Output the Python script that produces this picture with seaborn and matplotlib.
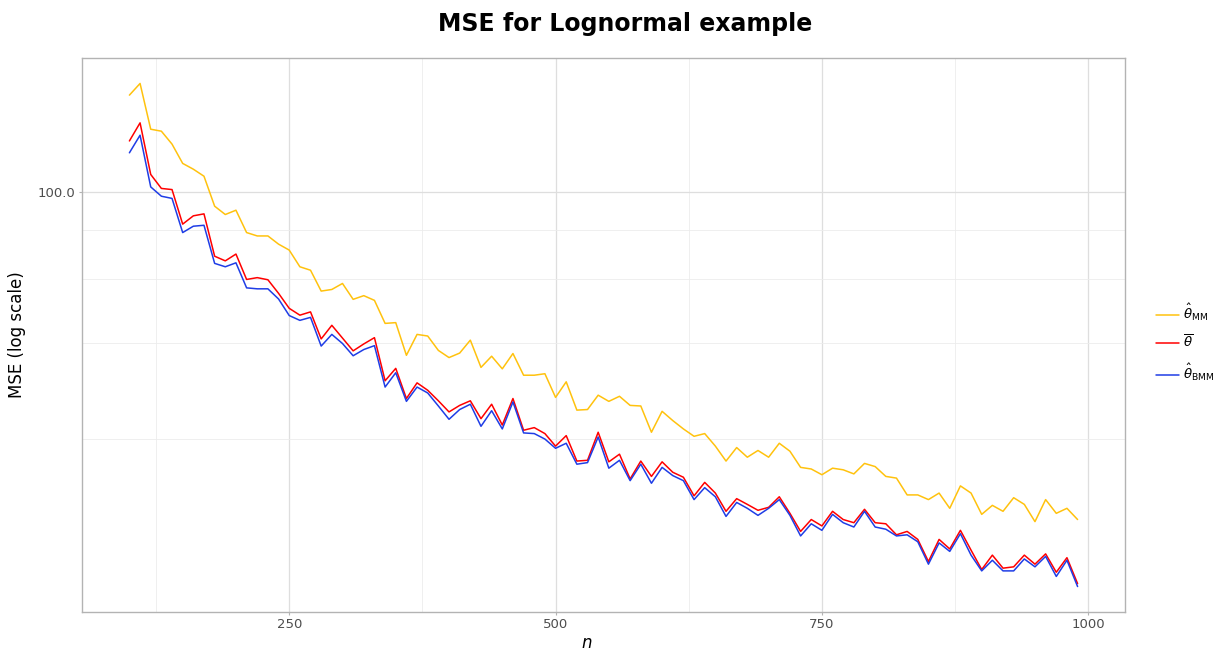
import numpy as np
import pandas as pd
import matplotlib.pyplot as plt
from matplotlib.ticker import FixedLocator, NullFormatter, FixedFormatter
import seaborn as sns

# sample sizes
n = np.arange(100, 1000, 10)

# MSE (log scale)
mse_mm = [164.6, 174.8, 138.1, 136.7, 127.9, 115.8, 112.4, 108.4, 92.9, 89.0,
          91.0, 81.1, 79.7, 79.7, 76.4, 74.1, 68.0, 66.8, 60.0, 60.5,
          62.4, 57.5, 58.6, 57.2, 50.8, 51.0, 43.1, 48.0, 47.6, 44.2,
          42.6, 43.6, 46.6, 40.5, 42.9, 40.2, 43.5, 38.9, 38.9, 39.2,
          34.7, 37.6, 32.5, 32.6, 35.1, 34.0, 34.9, 33.3, 33.2, 29.0,
          32.3, 30.8, 29.5, 28.4, 28.8, 27.0, 25.0, 26.8, 25.5, 26.4,
          25.5, 27.4, 26.3, 24.2, 24.0, 23.3, 24.1, 23.9, 23.4, 24.7,
          24.3, 23.1, 22.9, 21.0, 21.0, 20.5, 21.2, 19.6, 22.0, 21.2,
          19.0, 19.9, 19.3, 20.7, 20.0, 18.3, 20.5, 19.1, 19.6, 18.5]
mse_bar = [130.0, 142.7, 109.4, 101.8, 101.2, 84.7, 88.4, 89.3, 71.8, 70.1,
           72.6, 63.7, 64.3, 63.6, 59.3, 54.9, 53.0, 53.9, 46.9, 50.3,
           47.1, 44.1, 45.7, 47.2, 37.8, 40.3, 34.5, 37.4, 36.0, 34.1,
           32.2, 33.3, 34.1, 31.1, 33.5, 30.1, 34.5, 29.3, 29.7, 28.8,
           27.0, 28.5, 25.0, 25.1, 29.0, 24.9, 25.9, 22.8, 25.0, 23.1,
           24.9, 23.6, 23.0, 20.9, 22.4, 21.2, 19.3, 20.6, 20.0, 19.4,
           19.7, 20.8, 19.1, 17.4, 18.5, 17.9, 19.3, 18.5, 18.2, 19.5,
           18.2, 18.1, 17.1, 17.4, 16.7, 14.9, 16.7, 15.9, 17.5, 15.8,
           14.3, 15.4, 14.4, 14.5, 15.4, 14.7, 15.5, 14.1, 15.2, 13.3]
mse_bmm = [122.3, 133.9, 102.6, 97.8, 96.7, 81.1, 83.8, 84.2, 69.2, 68.0,
           69.4, 61.0, 60.7, 60.7, 57.6, 52.9, 51.6, 52.4, 45.2, 48.0,
           45.8, 43.0, 44.4, 45.3, 36.6, 39.4, 34.0, 36.6, 35.5, 33.2,
           31.0, 32.6, 33.5, 29.9, 32.4, 29.5, 33.9, 28.9, 28.8, 28.0,
           26.7, 27.4, 24.6, 24.8, 28.3, 24.1, 25.1, 22.6, 24.6, 22.3,
           24.2, 23.2, 22.6, 20.5, 21.8, 20.8, 18.8, 20.2, 19.6, 18.9,
           19.6, 20.5, 18.9, 17.0, 18.1, 17.5, 19.0, 18.2, 17.8, 19.3,
           17.8, 17.6, 17.0, 17.1, 16.5, 14.7, 16.4, 15.7, 17.2, 15.4,
           14.2, 15.0, 14.2, 14.2, 15.1, 14.5, 15.3, 13.8, 15.0, 13.1]

labels = [r'$\hat{\theta}_{\mathrm{MM}}$', r'$\overline{\theta}$', r'$\hat{\theta}_{\mathrm{BMM}}$']
colors = ['#FFC20E', '#FF0000', '#1F3DE6']

df = pd.concat([
    pd.DataFrame({'n': n, 'mse': mse_mm, 'est': labels[0]}),
    pd.DataFrame({'n': n, 'mse': mse_bar, 'est': labels[1]}),
    pd.DataFrame({'n': n, 'mse': mse_bmm, 'est': labels[2]}),
])

sns.set_theme(style='white')
plt.rcParams['font.family'] = ['DejaVu Sans']
plt.rcParams['mathtext.fontset'] = 'dejavusans'
plt.rcParams['text.color'] = 'black'

fig = plt.figure(figsize=(12.19, 6.51), dpi=100)
ax = fig.add_axes([82/1219, 1-611.7/651, (1125-82)/1219, (611.7-58.3)/651])

sns.lineplot(data=df, x='n', y='mse', hue='est', hue_order=labels,
             palette=dict(zip(labels, colors)), linewidth=1.1, ax=ax)
ax.set_yscale('log')
ax.margins(x=0.05, y=0.05)

ax.yaxis.set_major_locator(FixedLocator([100]))
ax.yaxis.set_major_formatter(FixedFormatter(['100.0']))
ax.yaxis.set_minor_locator(FixedLocator([28, 46, 64, 82]))
ax.yaxis.set_minor_formatter(NullFormatter())
ax.xaxis.set_major_locator(FixedLocator([250, 500, 750, 1000]))
ax.xaxis.set_minor_locator(FixedLocator([125, 375, 625, 875]))

ax.grid(True, which='major', color='#dedede', linewidth=0.9)
ax.grid(True, which='minor', color='#ececec', linewidth=0.6)
ax.set_axisbelow(True)
ax.tick_params(which='major', length=2.5, width=0.8, color='#b3b3b3',
               labelsize=9.5, labelcolor='#4d4d4d', pad=2, left=True, bottom=True)
ax.tick_params(which='minor', length=0)
for s in ax.spines.values():
    s.set_color('#b3b3b3')
    s.set_linewidth(1.0)

ax.set_ylabel('MSE (log scale)', fontsize=12, color='black')
ax.yaxis.set_label_coords(-0.054, 0.5)
ax.set_xlabel('$n$', fontsize=12, color='black')
ax.xaxis.set_label_coords(0.484, -0.040)

fig.text(625/1219, 1-24/651, 'MSE for Lognormal example', fontsize=17,
         fontweight='bold', color='black', ha='center', va='center')

h, l = ax.get_legend_handles_labels()
ax.legend(h, l, loc='center left', bbox_to_anchor=(1.018, 0.486), frameon=False,
          fontsize=9.5, handlelength=1.75, labelspacing=0.85, handletextpad=0.3)

fig.savefig('out.png', dpi=100)
